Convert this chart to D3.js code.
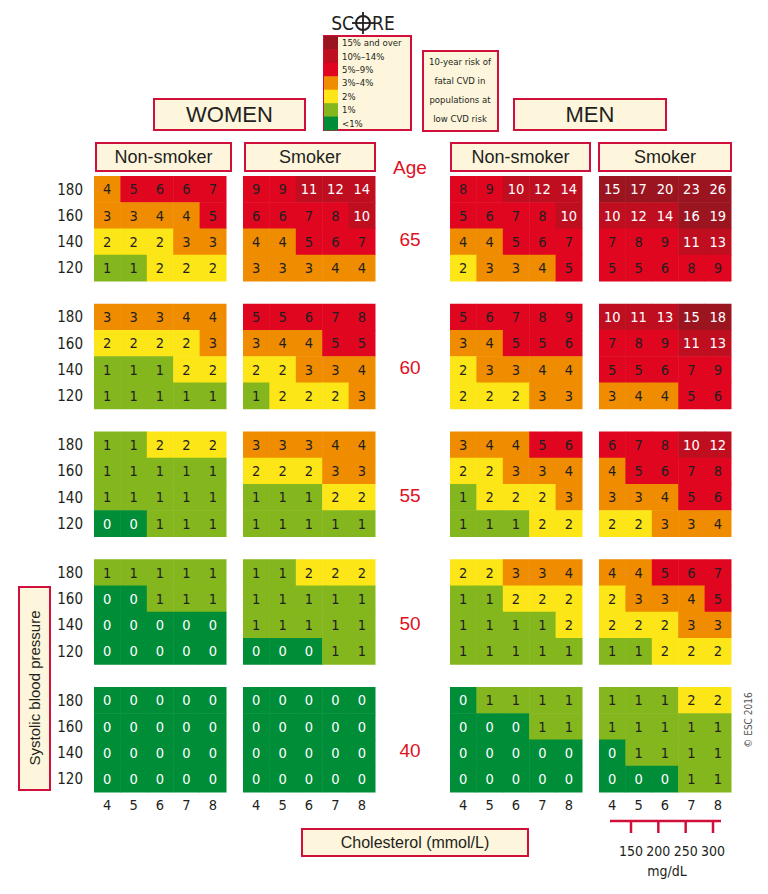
<!DOCTYPE html>
<html>
<head>
<meta charset="utf-8">
<script src="https://cdn.jsdelivr.net/npm/d3@7"></script>
<style>
	body { margin: 0; background: #fff; }
	svg { display: block; }
	text { font-family: "Liberation Sans", Arial, sans-serif; fill: #231f20; }
	.narrow { font-family: "Liberation Sans Narrow", "DejaVu Sans Condensed", "Liberation Sans", sans-serif; }
</style>
</head>
<body>
<script>

//ages, blood pressure rows and cholesterol columns
var ages = [65, 60, 55, 50, 40],
	sbp = [180, 160, 140, 120],
	chol = [4, 5, 6, 7, 8],
	mgdl = [150, 200, 250, 300];

//risk tables, one block per age (rows = sbp, cols = chol)
var womenNonSmoker = [
	[[4,5,6,6,7],[3,3,4,4,5],[2,2,2,3,3],[1,1,2,2,2]],
	[[3,3,3,4,4],[2,2,2,2,3],[1,1,1,2,2],[1,1,1,1,1]],
	[[1,1,2,2,2],[1,1,1,1,1],[1,1,1,1,1],[0,0,1,1,1]],
	[[1,1,1,1,1],[0,0,1,1,1],[0,0,0,0,0],[0,0,0,0,0]],
	[[0,0,0,0,0],[0,0,0,0,0],[0,0,0,0,0],[0,0,0,0,0]]
];
var womenSmoker = [
	[[9,9,11,12,14],[6,6,7,8,10],[4,4,5,6,7],[3,3,3,4,4]],
	[[5,5,6,7,8],[3,4,4,5,5],[2,2,3,3,4],[1,2,2,2,3]],
	[[3,3,3,4,4],[2,2,2,3,3],[1,1,1,2,2],[1,1,1,1,1]],
	[[1,1,2,2,2],[1,1,1,1,1],[1,1,1,1,1],[0,0,0,1,1]],
	[[0,0,0,0,0],[0,0,0,0,0],[0,0,0,0,0],[0,0,0,0,0]]
];
var menNonSmoker = [
	[[8,9,10,12,14],[5,6,7,8,10],[4,4,5,6,7],[2,3,3,4,5]],
	[[5,6,7,8,9],[3,4,5,5,6],[2,3,3,4,4],[2,2,2,3,3]],
	[[3,4,4,5,6],[2,2,3,3,4],[1,2,2,2,3],[1,1,1,2,2]],
	[[2,2,3,3,4],[1,1,2,2,2],[1,1,1,1,2],[1,1,1,1,1]],
	[[0,1,1,1,1],[0,0,0,1,1],[0,0,0,0,0],[0,0,0,0,0]]
];
var menSmoker = [
	[[15,17,20,23,26],[10,12,14,16,19],[7,8,9,11,13],[5,5,6,8,9]],
	[[10,11,13,15,18],[7,8,9,11,13],[5,5,6,7,9],[3,4,4,5,6]],
	[[6,7,8,10,12],[4,5,6,7,8],[3,3,4,5,6],[2,2,3,3,4]],
	[[4,4,5,6,7],[2,3,3,4,5],[2,2,2,3,3],[1,1,2,2,2]],
	[[1,1,1,2,2],[1,1,1,1,1],[0,1,1,1,1],[0,0,0,1,1]]
];

//legend
var riskLabels = ["15% and over", "10%\u201314%", "5%\u20139%", "3%\u20134%", "2%", "1%", "<1%"],
	riskColors = ["#9b1520", "#bf0e1f", "#e0061f", "#ef8c00", "#fde617", "#84b71d", "#008d38"];

var color = d3.scaleThreshold()
	.domain([1, 2, 3, 5, 10, 15])
	.range(riskColors.slice().reverse());

var red = "#e0101f",
	boxFill = "#fdf6dc",
	boxStroke = "#d0103a";

var svg = d3.select("body").append("svg")
	.attr("width", 768)
	.attr("height", 894);

//////////////
// helper: framed label box
//////////////
function box(x, y, w, h, label, size, cls){
	svg.append("rect")
		.attr("x", x).attr("y", y)
		.attr("width", w).attr("height", h)
		.style("fill", boxFill)
		.style("stroke", boxStroke)
		.style("stroke-width", 2);
	if (label) {
		svg.append("text")
			.attr("class", cls || null)
			.attr("x", x + w/2)
			.attr("y", y + h/2)
			.attr("dy", "0.36em")
			.style("text-anchor", "middle")
			.style("font-size", size)
			.text(label);
	}
}

//////////////
// panels
//////////////
var panels = [
	{data: womenNonSmoker, x: 94},
	{data: womenSmoker, x: 243},
	{data: menNonSmoker, x: 450},
	{data: menSmoker, x: 599}
];
var gridW = 132, gridH = 105;

var xCell = d3.scaleBand().domain(chol).range([0, gridW]),
	yCell = d3.scaleBand().domain(sbp).range([0, gridH]),
	yAge = d3.scalePoint().domain(ages).range([176, 687]);

panels.forEach(function(p){
	ages.forEach(function(age, a){
		var g = svg.append("g")
			.attr("transform", "translate(" + p.x + "," + yAge(age) + ")");
		var cells = [];
		p.data[a].forEach(function(row, r){
			row.forEach(function(v, c){
				cells.push({sbp: sbp[r], chol: chol[c], v: v});
			});
		});
		g.selectAll("rect")
			.data(cells).enter()
				.append("rect")
				.attr("x", function(d) {return xCell(d.chol);})
				.attr("y", function(d) {return yCell(d.sbp);})
				.attr("width", xCell.bandwidth() + 0.5)
				.attr("height", yCell.bandwidth() + 0.5)
				.style("fill", function(d) {return color(d.v);});
		g.selectAll("text")
			.data(cells).enter()
				.append("text")
				.attr("class", "narrow")
				.attr("x", function(d) {return xCell(d.chol) + xCell.bandwidth()/2;})
				.attr("y", function(d) {return yCell(d.sbp) + yCell.bandwidth()/2;})
				.attr("dy", "0.36em")
				.style("text-anchor", "middle")
				.style("font-size", "14.5px")
				.style("fill", function(d) {return (d.v === 0 || d.v >= 10) ? "#fff" : "#231f20";})
				.text(function(d) {return d.v;});
	});

	//cholesterol ticks below
	svg.append("g").selectAll("text")
		.data(chol).enter()
			.append("text")
			.attr("class", "narrow")
			.attr("x", function(d) {return p.x + xCell(d) + xCell.bandwidth()/2;})
			.attr("y", 805)
			.attr("dy", "0.36em")
			.style("text-anchor", "middle")
			.style("font-size", "14.5px")
			.text(function(d) {return d;});
});

//blood pressure row labels
ages.forEach(function(age){
	svg.append("g").selectAll("text")
		.data(sbp).enter()
			.append("text")
			.attr("class", "narrow")
			.attr("x", 83)
			.attr("y", function(d) {return yAge(age) + yCell(d) + yCell.bandwidth()/2;})
			.attr("dy", "0.36em")
			.style("text-anchor", "end")
			.style("font-size", "15px")
			.text(function(d) {return d;});
});

//age labels
svg.append("text")
	.attr("x", 410).attr("y", 167)
	.attr("dy", "0.36em")
	.style("text-anchor", "middle")
	.style("font-size", "19px")
	.style("fill", red)
	.text("Age");
svg.append("g").selectAll("text")
	.data(ages).enter()
		.append("text")
		.attr("x", 410)
		.attr("y", function(d) {return yAge(d) + gridH/2 + 11;})
		.attr("dy", "0.36em")
		.style("text-anchor", "middle")
		.style("font-size", "19px")
		.style("fill", red)
		.text(function(d) {return d;});

//////////////
// headers
//////////////
box(154, 99, 151, 31, "WOMEN", "22px");
box(514, 99, 152, 31, "MEN", "22px");
box(96, 143, 135, 28, "Non-smoker", "18px");
box(245, 143, 130, 28, "Smoker", "18px");
box(451, 143, 139, 28, "Non-smoker", "18px");
box(599, 143, 132, 28, "Smoker", "18px");

//////////////
// SCORE legend
//////////////
svg.append("text")
	.attr("class", "narrow")
	.attr("x", 354).attr("y", 30)
	.style("text-anchor", "end")
	.style("font-size", "19px")
	.text("SC");
svg.append("text")
	.attr("class", "narrow")
	.attr("x", 372).attr("y", 30)
	.style("font-size", "19px")
	.text("RE");
svg.append("circle")
	.attr("cx", 363).attr("cy", 23).attr("r", 7)
	.style("fill", "none").style("stroke", "#231f20").style("stroke-width", 2);
svg.append("line")
	.attr("x1", 363).attr("x2", 363).attr("y1", 12).attr("y2", 34)
	.style("stroke", "#231f20").style("stroke-width", 1.8);
svg.append("line")
	.attr("x1", 352).attr("x2", 374).attr("y1", 23).attr("y2", 23)
	.style("stroke", "#231f20").style("stroke-width", 1.8);

box(324, 36, 87, 94);
var legY = d3.scaleBand().domain(riskLabels).range([36, 130]);
svg.append("g").selectAll("rect")
	.data(riskLabels).enter()
		.append("rect")
		.attr("x", 324)
		.attr("y", function(d) {return legY(d);})
		.attr("width", 14)
		.attr("height", legY.bandwidth() + 0.5)
		.style("fill", function(d, i) {return riskColors[i];});
svg.append("g").selectAll("text")
	.data(riskLabels).enter()
		.append("text")
		.attr("class", "narrow")
		.attr("x", 342)
		.attr("y", function(d) {return legY(d) + legY.bandwidth()/2;})
		.attr("dy", "0.36em")
		.style("font-size", "9.5px")
		.text(function(d) {return d;});

box(423, 51, 75, 80);
var noteLines = ["10-year risk of", "fatal CVD in", "populations at", "low CVD risk"];
svg.append("g").selectAll("text")
	.data(noteLines).enter()
		.append("text")
		.attr("class", "narrow")
		.attr("x", 460)
		.attr("y", function(d, i) {return 62 + i*19;})
		.attr("dy", "0.36em")
		.style("text-anchor", "middle")
		.style("font-size", "9.5px")
		.text(function(d) {return d;});

//////////////
// axis titles
//////////////
box(19, 587, 31, 203);
svg.append("text")
	.attr("transform", "translate(35,688) rotate(-90)")
	.attr("dy", "0.36em")
	.style("text-anchor", "middle")
	.style("font-size", "15px")
	.text("Systolic blood pressure");

box(302, 829, 226, 27, "Cholesterol (mmol/L)", "16px");

//mg/dL scale under men smoker
var xMg = d3.scaleLinear().domain([150, 300]).range([631, 713]);
svg.append("line")
	.attr("x1", 610).attr("x2", 721).attr("y1", 821).attr("y2", 821)
	.style("stroke", boxStroke).style("stroke-width", 2.5);
svg.append("g").selectAll("line")
	.data(mgdl).enter()
		.append("line")
		.attr("x1", function(d) {return xMg(d);})
		.attr("x2", function(d) {return xMg(d);})
		.attr("y1", 821).attr("y2", 833)
		.style("stroke", boxStroke).style("stroke-width", 2.5);
svg.append("g").selectAll("text")
	.data(mgdl).enter()
		.append("text")
		.attr("class", "narrow")
		.attr("x", function(d) {return xMg(d);})
		.attr("y", 851)
		.attr("dy", "0.36em")
		.style("text-anchor", "middle")
		.style("font-size", "14px")
		.text(function(d) {return d;});
svg.append("text")
	.attr("class", "narrow")
	.attr("x", 667).attr("y", 871)
	.attr("dy", "0.36em")
	.style("text-anchor", "middle")
	.style("font-size", "14px")
	.text("mg/dL");

svg.append("text")
	.attr("class", "narrow")
	.attr("transform", "translate(748,720) rotate(-90)")
	.attr("dy", "0.36em")
	.style("text-anchor", "middle")
	.style("font-size", "10px")
	.style("fill", "#555")
	.text("\u00a9 ESC 2016");

</script>
</body>
</html>
